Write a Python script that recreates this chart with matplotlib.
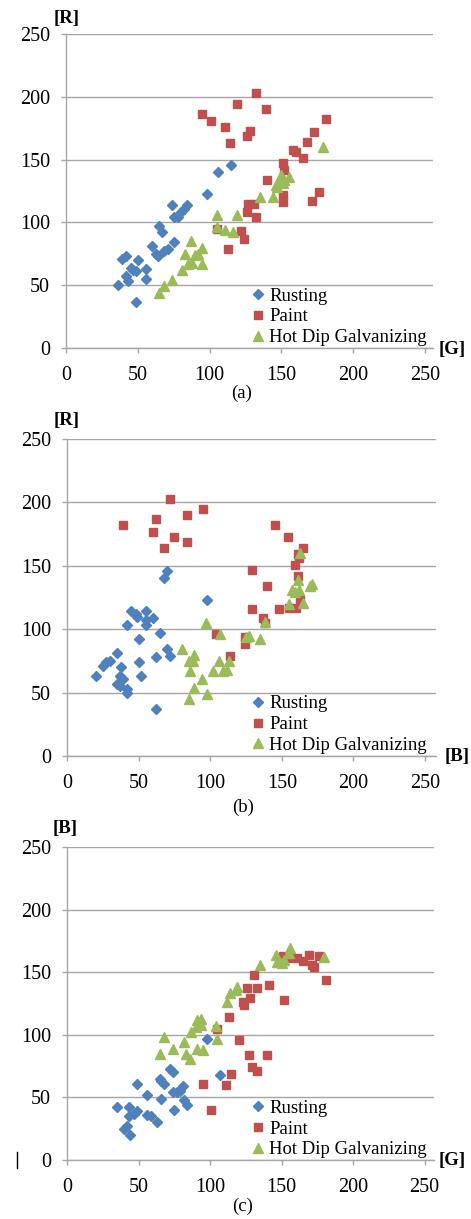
import matplotlib
matplotlib.use("Agg")
import matplotlib.pyplot as plt
from matplotlib.lines import Line2D

plt.rcParams['font.family'] = ['Liberation Serif', 'DejaVu Serif']

# Panel (a): G vs R
rust_a_g = [36, 49, 39, 42, 42, 43, 45, 47, 49, 50, 56, 56, 60, 63, 64, 65, 67, 68, 71, 75,
            74, 75, 78, 80, 82, 84, 98, 106, 115]
rust_a_r = [50, 37, 71, 73, 57, 53, 64, 62, 61, 70, 63, 55, 81, 75, 73, 97, 92, 77, 79, 84,
            114, 104, 104, 108, 111, 114, 123, 140, 146]
paint_a_g = [95, 101, 111, 114, 119, 126, 128, 132, 139, 140, 151, 152, 151, 151, 158, 160, 165, 168, 173, 181,
             176, 171, 105, 126, 127, 131, 132, 122, 124, 113]
paint_a_r = [186, 181, 176, 163, 194, 169, 173, 203, 190, 134, 147, 142, 122, 116, 158, 156, 151, 164, 172, 182,
             124, 117, 95, 108, 115, 115, 104, 93, 87, 79]
hdg_a_g = [65, 68, 74, 81, 83, 87, 85, 88, 90, 92, 95, 95, 105, 105, 111, 116, 119, 135, 144, 146,
           149, 150, 151, 155, 179, 147, 152]
hdg_a_r = [44, 49, 54, 62, 75, 85, 67, 68, 74, 75, 80, 67, 106, 96, 94, 92, 106, 120, 120, 130,
           132, 138, 131, 136, 160, 128, 134]

# Panel (b): B vs R
rust_b_b = [70, 68, 45, 48, 49, 55, 60, 55, 55, 42, 65, 50, 70, 72, 35, 62, 30, 27, 25, 38,
            50, 20, 52, 37, 39, 35, 37, 42, 42, 62, 98]
rust_b_r = [146, 140, 114, 112, 110, 114, 109, 107, 103, 103, 97, 92, 84, 79, 81, 78, 75, 74, 71, 70,
            74, 63, 63, 63, 61, 57, 55, 53, 50, 37, 123]
paint_b_b = [72, 39, 62, 84, 60, 75, 84, 68, 95, 145, 154, 165, 161, 162, 159, 129, 161, 140, 163, 160,
             155, 148, 129, 137, 138, 104, 124, 124, 114]
paint_b_r = [203, 182, 187, 190, 177, 173, 169, 164, 195, 182, 173, 164, 159, 156, 151, 147, 142, 134, 123, 117,
             117, 116, 116, 109, 105, 96, 94, 88, 79]
hdg_b_b = [80, 85, 88, 89, 86, 85, 89, 94, 98, 97, 102, 106, 107, 109, 112, 113, 125, 127, 135, 138,
           155, 165, 157, 162, 159, 161, 170, 171, 163]
hdg_b_r = [84, 75, 75, 80, 67, 45, 54, 61, 49, 105, 67, 75, 96, 67, 68, 75, 94, 95, 92, 106,
           120, 121, 131, 131, 129, 139, 134, 136, 160]

# Panel (c): G vs B
rust_c_g = [35, 43, 49, 40, 42, 44, 43, 47, 49, 56, 56, 59, 63, 65, 66, 68, 66, 72, 74, 74,
            77, 75, 81, 82, 84, 79, 98, 107]
rust_c_b = [42, 42, 61, 25, 27, 20, 35, 37, 39, 52, 36, 35, 30, 65, 63, 61, 49, 73, 70, 54,
            54, 40, 59, 48, 44, 55, 97, 68]
paint_c_g = [151, 156, 161, 165, 169, 176, 171, 173, 181, 131, 126, 133, 141, 123, 128, 124, 152, 113, 105, 120,
             127, 140, 129, 133, 115, 111, 95, 101]
paint_c_b = [163, 161, 161, 159, 164, 163, 156, 154, 144, 148, 137, 137, 140, 126, 129, 124, 128, 114, 105, 96,
             84, 84, 74, 71, 69, 60, 61, 40]
hdg_c_g = [91, 94, 94, 90, 87, 68, 65, 74, 82, 83, 86, 91, 95, 104, 105, 112, 114, 118, 119, 135,
           146, 147, 150, 152, 156, 155, 180, 92]
hdg_c_b = [112, 113, 108, 106, 102, 98, 85, 89, 94, 85, 81, 89, 88, 107, 97, 126, 133, 136, 138, 156,
           164, 158, 157, 160, 169, 165, 162, 110]

ticks = [0, 50, 100, 150, 200, 250]
series_names = ["Rusting", "Paint", "Hot Dip Galvanizing"]

W, H = 471, 1219
fig = plt.figure(figsize=(W / 100, H / 100), dpi=100)

c_blue = "#4F81BD"
c_red = "#C0504D"
c_green = "#9BBB59"
grid_c = "#a6a6a6"


def px_axes(left, right, top, bottom):
    return fig.add_axes([left / W, 1 - bottom / H, (right - left) / W, (bottom - top) / H])


def panel(ax, xmax, rx, ry, px_, py_, hx, hy, leg_x):
    ax.plot(rx, ry, ls="none", marker="D", ms=5.0, color=c_blue, mec=c_blue, label=series_names[0])
    ax.plot(px_, py_, ls="none", marker="s", ms=6.0, color=c_red, mec=c_red, label=series_names[1])
    ax.plot(hx, hy, ls="none", marker="^", ms=7.0, color=c_green, mec=c_green, label=series_names[2])
    ax.set_xlim(0, xmax)
    ax.set_ylim(0, 250)
    ax.set_xticks(ticks)
    ax.set_yticks(ticks)
    ax.yaxis.grid(True, color=grid_c, lw=1.0)
    ax.set_axisbelow(True)
    for s in ["top", "right"]:
        ax.spines[s].set_visible(False)
    for s in ["left", "bottom"]:
        ax.spines[s].set_color(grid_c)
        ax.spines[s].set_linewidth(1.0)
    ax.tick_params(axis="both", colors=grid_c, length=3.6, width=1.0, labelsize=14.5,
                   labelcolor="black")
    ax.tick_params(axis="y", pad=8)
    ax.tick_params(axis="x", pad=9)
    ax.legend(loc="center left", bbox_to_anchor=(leg_x, 0.099), frameon=False,
              fontsize=13.5, handlelength=0.8, handletextpad=0.2, borderpad=0,
              labelspacing=0.2, borderaxespad=0)


# (a)
ax1 = px_axes(66, 433, 34, 348)
panel(ax1, 255.6, rust_a_g, rust_a_r, paint_a_g, paint_a_r, hdg_a_g, hdg_a_r, 0.503)
fig.text(67 / W, 1 - 19 / H, "[R]", ha="center", va="center", fontsize=13.5, fontweight="bold")
fig.text(439 / W, 1 - 349 / H, "[G]", ha="left", va="center", fontsize=13.5, fontweight="bold")
fig.text(242 / W, 1 - 393 / H, "(a)", ha="center", va="center", fontsize=13.5)

# (b)
ax2 = px_axes(67, 436, 439, 756)
panel(ax2, 257.7, rust_b_b, rust_b_r, paint_b_b, paint_b_r, hdg_b_b, hdg_b_r, 0.497)
fig.text(67 / W, 1 - 420 / H, "[R]", ha="center", va="center", fontsize=13.5, fontweight="bold")
fig.text(445 / W, 1 - 757 / H, "[B]", ha="left", va="center", fontsize=13.5, fontweight="bold")
fig.text(243 / W, 1 - 807 / H, "(b)", ha="center", va="center", fontsize=13.5)

# (c)
ax3 = px_axes(67, 434, 847, 1160)
panel(ax3, 256.6, rust_c_g, rust_c_b, paint_c_g, paint_c_b, hdg_c_g, hdg_c_b, 0.5)
fig.text(65 / W, 1 - 828 / H, "[B]", ha="center", va="center", fontsize=13.5, fontweight="bold")
fig.text(439 / W, 1 - 1160 / H, "[G]", ha="left", va="center", fontsize=13.5, fontweight="bold")
fig.text(243 / W, 1 - 1206 / H, "(c)", ha="center", va="center", fontsize=13.5)

# small stray mark at left of panel (c)
fig.add_artist(Line2D([17 / W, 17 / W], [1 - 1152 / H, 1 - 1168 / H], color="black", lw=1.0))

fig.savefig("out.png", dpi=100)
